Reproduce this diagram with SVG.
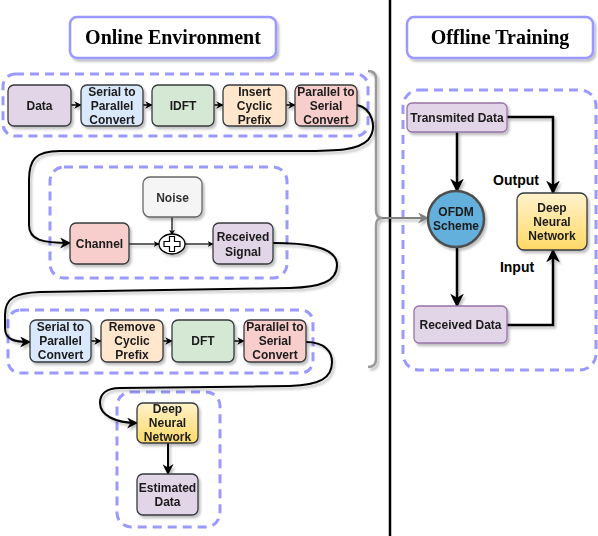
<svg xmlns="http://www.w3.org/2000/svg" width="598" height="536" viewBox="0 0 598 536">
<defs>
<filter id="sh" x="-20%" y="-20%" width="140%" height="140%">
<feDropShadow dx="2" dy="2.5" stdDeviation="1" flood-color="#000" flood-opacity="0.25"/>
</filter>
<linearGradient id="gy" x1="0" y1="0" x2="0" y2="1">
<stop offset="0" stop-color="#fff2cc"/>
<stop offset="1" stop-color="#ffd966"/>
</linearGradient>
<marker id="ah" viewBox="0 0 10 10" refX="9" refY="5" markerWidth="5.5" markerHeight="5.5" orient="auto" markerUnits="strokeWidth">
<path d="M0,0 L10,5 L0,10 L3,5 Z" fill="#000"/>
</marker>
<marker id="as" viewBox="0 0 10 10" refX="9" refY="5" markerWidth="5" markerHeight="5" orient="auto" markerUnits="strokeWidth">
<path d="M0,0 L10,5 L0,10 L3,5 Z" fill="#000"/>
</marker>
<marker id="ag" viewBox="0 0 10 10" refX="9" refY="5" markerWidth="5.5" markerHeight="5.5" orient="auto" markerUnits="strokeWidth">
<path d="M0,0 L10,5 L0,10 L3,5 Z" fill="#808080"/>
</marker>
</defs>
<style>
.title{fill:#fff;stroke:#9999ff;stroke-width:2.5}
.tt{font-family:"Liberation Serif",serif;font-weight:bold;font-size:20px;fill:#000;text-anchor:middle}
.grp{fill:none;stroke:#8080ff;stroke-opacity:0.8;stroke-width:3;stroke-dasharray:9 6}
.n{stroke:#36393d;stroke-width:1.3}
.t{font-family:"Liberation Sans",Arial,sans-serif;font-weight:bold;font-size:12px;fill:#1a1a1a;text-anchor:middle}
.lbl{font-family:"Liberation Sans",Arial,sans-serif;font-weight:bold;font-size:14px;fill:#000;text-anchor:middle}
.c{fill:none;stroke:#000}
</style>
<rect width="598" height="536" fill="#fff"/>

<!-- divider and bracket -->
<line x1="390" y1="0" x2="390" y2="536" stroke="#000" stroke-width="2.5"/>
<path d="M368,71 Q376,71 376,79 L376,210 Q376,218 382,218 Q376,218 376,226 L376,359 Q376,367 368,367" fill="none" stroke="#999" stroke-width="2.5" filter="url(#sh)"/>

<!-- titles -->
<g id="title-online" filter="url(#sh)"><rect class="title" x="70" y="17" width="206" height="41" rx="7"/><text class="tt" x="173" y="44">Online Environment</text></g>
<g id="title-offline" filter="url(#sh)"><rect class="title" x="407" y="17" width="186" height="41" rx="7"/><text class="tt" x="500" y="44">Offline Training</text></g>

<!-- groups -->
<g id="groups">
<rect class="grp" x="3" y="74" width="365" height="62" rx="12"/>
<rect class="grp" x="50" y="167" width="237" height="111" rx="14"/>
<rect class="grp" x="8" y="310" width="305" height="63" rx="12"/>
<rect class="grp" x="117" y="392" width="103" height="135" rx="14"/>
<rect class="grp" x="403" y="90" width="193" height="280" rx="16"/>
</g>

<!-- connectors -->
<g id="connectors" filter="url(#sh)">
<path class="c" stroke-width="1.5" d="M71,105 L81,105" marker-end="url(#as)"/>
<path class="c" stroke-width="1.5" d="M143,105 L152,105" marker-end="url(#as)"/>
<path class="c" stroke-width="1.5" d="M214,105 L223,105" marker-end="url(#as)"/>
<path class="c" stroke-width="1.5" d="M286,105 L295,105" marker-end="url(#as)"/>
<path class="c" stroke-width="2" d="M357,105 C372,108 378,128 368,140 C358,150 340,151 300,151 L60,151 C35,151 29,160 29,180 L29,225 C29,240 42,243 70,243" marker-end="url(#ah)"/>
<path class="c" stroke-width="1.2" d="M129,244 L159,244" marker-end="url(#as)"/>
<path class="c" stroke-width="1.2" d="M172,217 L172,235" marker-end="url(#as)"/>
<path class="c" stroke-width="1.2" d="M185,244 L213,244" marker-end="url(#as)"/>
<path class="c" stroke-width="2" d="M273,243 C300,243 337,245 337,265 C337,282 320,287 290,288 L40,292 C15,293 5,298 5,315 L5,328 C5,340 15,342 30,342" marker-end="url(#ah)"/>
<path class="c" stroke-width="1.5" d="M91,341 L101,341" marker-end="url(#as)"/>
<path class="c" stroke-width="1.5" d="M163,341 L172,341" marker-end="url(#as)"/>
<path class="c" stroke-width="1.5" d="M234,341 L244,341" marker-end="url(#as)"/>
<path class="c" stroke-width="2" d="M306,342 C325,342 332,352 332,362 C332,378 320,385 290,386 L120,388 C105,388 100,395 100,403 C100,415 115,423 137,423" marker-end="url(#ah)"/>
<path class="c" stroke-width="2" d="M168,443 L168,474" marker-end="url(#ah)"/>
<path fill="none" stroke="#808080" stroke-width="2" d="M382,218 L428,218" marker-end="url(#ag)"/>
<path class="c" stroke-width="2.5" d="M457,132 L457,191" marker-end="url(#ah)"/>
<path class="c" stroke-width="2.5" d="M457,247 L457,306" marker-end="url(#ah)"/>
<path class="c" stroke-width="2.5" d="M507,117 L553,117 L553,193" marker-end="url(#ah)"/>
<path class="c" stroke-width="2.5" d="M507,325 L553,325 L553,250" marker-end="url(#ah)"/>
</g>

<!-- nodes: top row -->
<g id="n-data" filter="url(#sh)"><rect class="n" x="8" y="85" width="63" height="41" rx="6" fill="#e1d5e7"/><text class="t" x="39.5" y="110">Data</text></g>
<g id="n-s2p" filter="url(#sh)"><rect class="n" x="81" y="85" width="62" height="41" rx="6" fill="#dae8fc"/><text class="t" x="112" y="96">Serial to</text><text class="t" x="112" y="110">Parallel</text><text class="t" x="112" y="124">Convert</text></g>
<g id="n-idft" filter="url(#sh)"><rect class="n" x="152" y="85" width="62" height="41" rx="6" fill="#d5e8d4"/><text class="t" x="183" y="110">IDFT</text></g>
<g id="n-icp" filter="url(#sh)"><rect class="n" x="223" y="85" width="63" height="41" rx="6" fill="#ffe6cc"/><text class="t" x="254.5" y="96">Insert</text><text class="t" x="254.5" y="110">Cyclic</text><text class="t" x="254.5" y="124">Prefix</text></g>
<g id="n-p2s" filter="url(#sh)"><rect class="n" x="295" y="85" width="62" height="41" rx="6" fill="#f8cecc"/><text class="t" x="326" y="96">Parallel to</text><text class="t" x="326" y="110">Serial</text><text class="t" x="326" y="124">Convert</text></g>

<!-- channel group -->
<g id="n-noise" filter="url(#sh)"><rect x="143" y="177" width="59" height="40" rx="7" fill="#f5f5f5" stroke="#666" stroke-width="1.3"/><text class="t" x="172.5" y="202" style="fill:#333">Noise</text></g>
<g id="n-channel" filter="url(#sh)"><rect class="n" x="70" y="223" width="59" height="41" rx="6" fill="#f8cecc"/><text class="t" x="99.5" y="248">Channel</text></g>
<g id="n-sum" filter="url(#sh)"><ellipse cx="172" cy="244" rx="13" ry="10" fill="#fff" stroke="#000" stroke-width="1.3"/><path d="M169.5,236.5 h5 v5 h5.5 v5 h-5.5 v5 h-5 v-5 h-5.5 v-5 h5.5 Z" fill="#fff" stroke="#000" stroke-width="1.2"/></g>
<g id="n-rsig" filter="url(#sh)"><rect class="n" x="213" y="223" width="60" height="41" rx="6" fill="#e1d5e7"/><text class="t" x="243" y="241">Received</text><text class="t" x="243" y="256">Signal</text></g>

<!-- bottom row -->
<g id="n-s2p2" filter="url(#sh)"><rect class="n" x="30" y="320" width="61" height="42" rx="6" fill="#dae8fc"/><text class="t" x="60.5" y="331">Serial to</text><text class="t" x="60.5" y="345">Parallel</text><text class="t" x="60.5" y="359">Convert</text></g>
<g id="n-rcp" filter="url(#sh)"><rect class="n" x="101" y="320" width="62" height="42" rx="6" fill="#ffe6cc"/><text class="t" x="132" y="331">Remove</text><text class="t" x="132" y="345">Cyclic</text><text class="t" x="132" y="359">Prefix</text></g>
<g id="n-dft" filter="url(#sh)"><rect class="n" x="172" y="320" width="62" height="42" rx="6" fill="#d5e8d4"/><text class="t" x="203" y="345">DFT</text></g>
<g id="n-p2s2" filter="url(#sh)"><rect class="n" x="244" y="320" width="62" height="42" rx="6" fill="#f8cecc"/><text class="t" x="275" y="331">Parallel to</text><text class="t" x="275" y="345">Serial</text><text class="t" x="275" y="359">Convert</text></g>

<!-- dnn group -->
<g id="n-dnn1" filter="url(#sh)"><rect class="n" x="137" y="403" width="61" height="40" rx="6" fill="url(#gy)"/><text class="t" x="167.5" y="413">Deep</text><text class="t" x="167.5" y="427">Neural</text><text class="t" x="167.5" y="441">Network</text></g>
<g id="n-est" filter="url(#sh)"><rect class="n" x="137" y="474" width="61" height="41" rx="6" fill="#e1d5e7"/><text class="t" x="167.5" y="492">Estimated</text><text class="t" x="167.5" y="506">Data</text></g>

<!-- offline -->
<g id="n-tx" filter="url(#sh)"><rect x="407" y="103" width="100" height="29" rx="5" fill="#e1d5e7" stroke="#9673a6" stroke-width="1.3"/><text class="t" x="457" y="122">Transmited Data</text></g>
<g id="n-ofdm" filter="url(#sh)"><circle cx="456" cy="219" r="28" fill="#63b0dc" stroke="#4d4d4d" stroke-width="2.5"/><text class="t" x="456" y="216">OFDM</text><text class="t" x="456" y="230">Scheme</text></g>
<g id="n-rx" filter="url(#sh)"><rect x="414" y="306" width="93" height="37" rx="5" fill="#e1d5e7" stroke="#9673a6" stroke-width="1.3"/><text class="t" x="460.5" y="329">Received Data</text></g>
<g id="n-dnn2" filter="url(#sh)"><rect class="n" x="517" y="193" width="70" height="57" rx="7" fill="url(#gy)"/><text class="t" x="552" y="212">Deep</text><text class="t" x="552" y="226">Neural</text><text class="t" x="552" y="240">Network</text></g>
<text class="lbl" x="516" y="185">Output</text>
<text class="lbl" x="517" y="272">Input</text>
</svg>
